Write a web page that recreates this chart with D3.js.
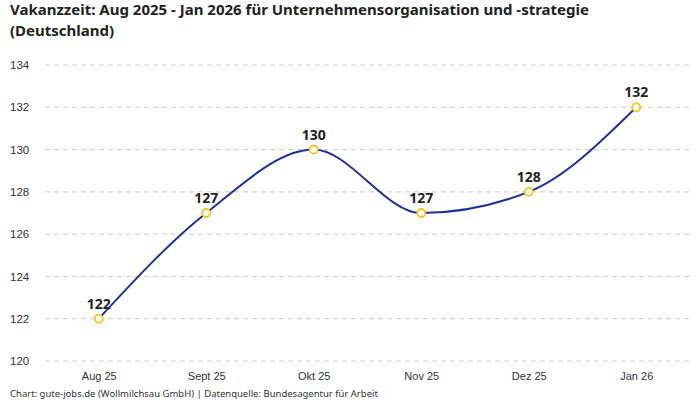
<!DOCTYPE html>
<html>
<head>
<meta charset="utf-8">
<script src="https://cdn.jsdelivr.net/npm/d3@7"></script>
<style>
  body { margin: 0; background: #fff; }
  svg { font-family: "Noto Sans", sans-serif; }
</style>
</head>
<body>
<svg id="chart" width="700" height="400"></svg>
<script>
const months = ["Aug 25", "Sept 25", "Okt 25", "Nov 25", "Dez 25", "Jan 26"];
const vacancyDays = [122, 127, 130, 127, 128, 132];
const yTicks = [120, 122, 124, 126, 128, 130, 132, 134];

const data = months.map((m, i) => ({ month: m, value: vacancyDays[i] }));

const svg = d3.select("#chart");
const margin = { top: 65, right: 10, bottom: 39, left: 45 };
const width = 700, height = 400;

// title (two lines)
svg.append("text")
  .attr("x", 10).attr("y", 15)
  .attr("font-size", 15).attr("font-weight", "bold").attr("fill", "#222")
  .text("Vakanzzeit: Aug 2025 - Jan 2026 für Unternehmensorganisation und -strategie");
svg.append("text")
  .attr("x", 10).attr("y", 35.5)
  .attr("font-size", 15).attr("font-weight", "bold").attr("fill", "#222")
  .text("(Deutschland)");

const x = d3.scalePoint()
  .domain(months)
  .range([margin.left, width - margin.right])
  .padding(0.5);

const y = d3.scaleLinear()
  .domain([120, 134])
  .range([height - margin.bottom, margin.top]);

// gridlines
svg.append("g")
  .selectAll("line")
  .data(yTicks)
  .join("line")
  .attr("x1", margin.left).attr("x2", width - margin.right)
  .attr("y1", d => y(d)).attr("y2", d => y(d))
  .attr("stroke", "#ccc")
  .attr("stroke-dasharray", "5,4");

// y axis
const yAxis = svg.append("g")
  .attr("transform", `translate(${margin.left},0)`)
  .call(d3.axisLeft(y).tickValues(yTicks).tickSize(0).tickPadding(15));
yAxis.select(".domain").remove();
yAxis.selectAll("text").attr("font-size", 11.5).attr("fill", "#333")
  .attr("text-anchor", "start").attr("x", -35);

// x axis
const xAxis = svg.append("g")
  .attr("transform", `translate(0,${height - margin.bottom})`)
  .call(d3.axisBottom(x).tickSize(0).tickPadding(11));
xAxis.select(".domain").remove();
xAxis.selectAll("text").attr("font-size", 11).attr("fill", "#333");

// line
const line = d3.line()
  .x(d => x(d.month))
  .y(d => y(d.value))
  .curve(d3.curveMonotoneX);

svg.append("path")
  .datum(data)
  .attr("fill", "none")
  .attr("stroke", "#1f3192")
  .attr("stroke-width", 2)
  .attr("d", line);

// markers
svg.append("g")
  .selectAll("circle")
  .data(data)
  .join("circle")
  .attr("cx", d => x(d.month))
  .attr("cy", d => y(d.value))
  .attr("r", 4)
  .attr("fill", "#fff")
  .attr("stroke", "#f7c31c")
  .attr("stroke-width", 1.8);

// value labels
svg.append("g")
  .selectAll("text")
  .data(data)
  .join("text")
  .attr("x", d => x(d.month))
  .attr("y", d => y(d.value) - 10)
  .attr("text-anchor", "middle")
  .attr("font-size", 14)
  .attr("font-weight", "bold")
  .attr("fill", "#222")
  .text(d => d.value);

// footer
svg.append("text")
  .attr("x", 10).attr("y", 397)
  .attr("font-size", 9.5).attr("fill", "#333")
  .text("Chart: gute-jobs.de (Wollmilchsau GmbH) | Datenquelle: Bundesagentur für Arbeit");
</script>
</body>
</html>
